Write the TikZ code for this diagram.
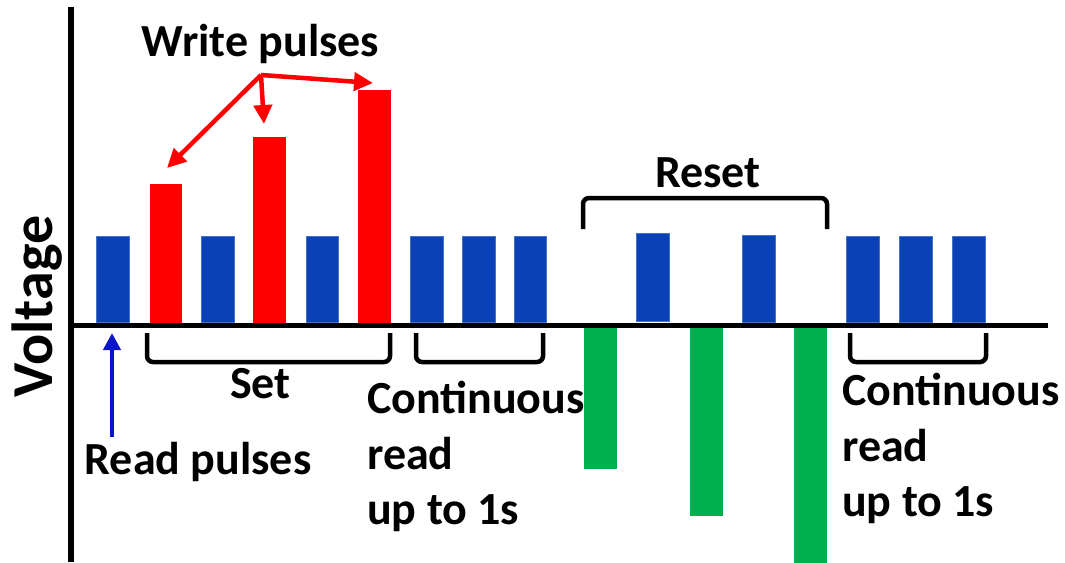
\documentclass[tikz,border=0pt]{standalone}
\usepackage{fontspec}
\setmainfont{Carlito}
\usetikzlibrary{arrows.meta}
\definecolor{barblue}{HTML}{0A41B4}
\definecolor{edgeblue}{HTML}{4472C4}
\definecolor{barred}{HTML}{FF0000}
\definecolor{bargreen}{HTML}{00B050}
\definecolor{arrowblue}{HTML}{0A14C8}
\tikzset{
  bar/.style={inner sep=0pt, minimum width=32.5pt},
  bluebar/.style={bar, fill=barblue, draw=edgeblue, line width=0.6pt, anchor=south},
  redbar/.style={bar, fill=barred, anchor=south},
  greenbar/.style={bar, fill=bargreen, anchor=north},
  lbl/.style={inner sep=0pt, font=\bfseries\fontsize{46}{55.5}\selectfont},
  axisline/.style={line width=5.5pt, black},
  bracket/.style={line width=4.5pt, rounded corners=6pt, black},
  redarrow/.style={draw=barred, line width=4.5pt, -{Triangle[length=19pt,width=18pt]}},
  bluearrow/.style={draw=arrowblue, line width=4.5pt, -{Triangle[length=17pt,width=17pt]}}
}
\begin{document}
\begin{tikzpicture}[x=1pt,y=-1pt]
\useasboundingbox (0,0) rectangle (1065,562);
% axes
\coordinate (ytop) at (71,7);
\coordinate (ybot) at (71,562);
\coordinate (xleft) at (68,325.5);
\coordinate (xright) at (1048,325.5);
\draw[axisline] (ytop) -- (ybot);
\draw[axisline] (xleft) -- (xright);
% blue read pulses
\node[bluebar, minimum height=86pt] (b1) at (113,323) {};
\node[bluebar, minimum height=86pt] (b2) at (218,323) {};
\node[bluebar, minimum height=86pt] (b3) at (322.5,323) {};
\node[bluebar, minimum height=86pt] (b4) at (427,323) {};
\node[bluebar, minimum height=86pt] (b5) at (479,323) {};
\node[bluebar, minimum height=86pt] (b6) at (530.5,323) {};
\node[bluebar, minimum height=88pt] (b7) at (653,322) {};
\node[bluebar, minimum height=87pt] (b8) at (759,323) {};
\node[bluebar, minimum height=86pt] (b9) at (863,323) {};
\node[bluebar, minimum height=86pt] (b10) at (916,323) {};
\node[bluebar, minimum height=86pt] (b11) at (969,323) {};
% red write pulses
\node[redbar, minimum height=139pt] (r1) at (166,323) {};
\node[redbar, minimum height=186pt] (r2) at (269.5,323) {};
\node[redbar, minimum height=233pt] (r3) at (374.5,323) {};
% green reset pulses
\node[greenbar, minimum height=141pt] (g1) at (600.5,328) {};
\node[greenbar, minimum height=188pt] (g2) at (706.5,328) {};
\node[greenbar, minimum height=240pt] (g3) at (810.5,328) {};
% labels
\node[lbl, anchor=base] (write) at (260.5,56) {Write pulses};
\node[lbl, anchor=base] (set) at (260.5,398) {Set};
\node[lbl, anchor=base] (read) at (198,474) {Read pulses};
\node[lbl, anchor=base] (reset) at (708,187) {Reset};
\node[lbl, anchor=north west, align=left] (cont1) at (367,381) {Continuous\\read\\up to 1s};
\node[lbl, anchor=north west, align=left] (cont2) at (842,373) {Continuous\\read\\up to 1s};
\node[inner sep=0pt, font=\bfseries\fontsize{58}{60}\selectfont, rotate=90, anchor=base] (volt) at (52,306.5) {Voltage};
% brackets
\coordinate (s1) at (147,333); \coordinate (s2) at (147,362);
\coordinate (s3) at (390,362); \coordinate (s4) at (390,333);
\draw[bracket] (s1) -- (s2) -- (s3) -- (s4);
\coordinate (c1) at (416,333); \coordinate (c2) at (416,362);
\coordinate (c3) at (543,362); \coordinate (c4) at (543,333);
\draw[bracket] (c1) -- (c2) -- (c3) -- (c4);
\coordinate (d1) at (850,333); \coordinate (d2) at (850,362);
\coordinate (d3) at (986,362); \coordinate (d4) at (986,333);
\draw[bracket] (d1) -- (d2) -- (d3) -- (d4);
\coordinate (e1) at (583,229); \coordinate (e2) at (583,198);
\coordinate (e3) at (827,198); \coordinate (e4) at (827,229);
\draw[bracket] (e1) -- (e2) -- (e3) -- (e4);
% write arrows
\coordinate (wp) at (261,75);
\coordinate (w1) at (167,168);
\coordinate (w2) at (264,124);
\coordinate (w3) at (373,83);
\draw[redarrow] (wp) -- (w1);
\draw[redarrow] (wp) -- (w2);
\draw[redarrow] (wp) -- (w3);
% read arrow
\coordinate (rs) at (112,437);
\coordinate (rt) at (112,333);
\draw[bluearrow] (rs) -- (rt);
\end{tikzpicture}
\end{document}
